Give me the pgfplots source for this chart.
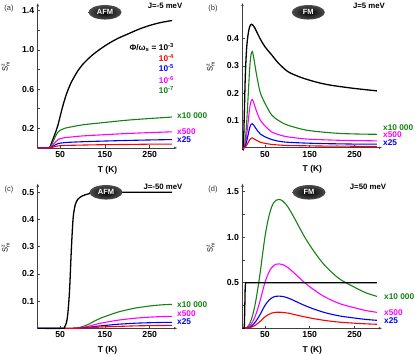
\documentclass[border=0pt]{standalone}
\usepackage{fontspec}
\setmainfont{Liberation Sans}
\setsansfont{Liberation Sans}
\usepackage{pgfplots}
\pgfplotsset{compat=1.18}
\usetikzlibrary{arrows.meta,shapes.geometric}
\definecolor{cgreen}{RGB}{20,130,20}
\definecolor{cmag}{RGB}{255,0,255}
\definecolor{cblue}{RGB}{0,0,255}
\definecolor{cred}{RGB}{255,0,0}
\pgfplotsset{panel/.style={
 scale only axis, width=139.8pt, height=145pt,
 xmin=0,xmax=312,ymin=0,
 axis lines=left,
 axis line style={line width=0.6pt, black!75, -{Latex[length=3.5pt,width=2.6pt]}},
 tick align=inside,
 major tick length=2.5pt, minor tick length=2pt,
 tick style={black!75, line width=0.5pt},
 xtick={50,150,250}, xticklabels={50,150,250},
 tick label style={font=\bfseries\fontsize{8.7}{9}\selectfont},
 /pgf/number format/assume math mode=true,
 xlabel={T (K)},
 xlabel style={font=\bfseries\fontsize{8.5}{9}\selectfont, at={(axis description cs:0.5,-0.152)}, anchor=center},
 ylabel={$\mathsf{S}^{\mathsf{z}}_{\mathsf{m}}$},
 ylabel style={font=\fontsize{7.5}{8}\selectfont, at={(axis description cs:-0.228,0.56)}, anchor=center},
 clip=false,
 every axis plot/.append style={line width=1.1pt, no markers},
}}
\tikzset{badge/.style={ellipse, inner sep=0pt, minimum width=33pt, minimum height=14.5pt, shading=radial, inner color=black, outer color=black!70, text=white, font=\bfseries\fontsize{7.5}{8}\selectfont},
 lab/.style={font=\bfseries\fontsize{8.3}{9}\selectfont, anchor=west, inner sep=0pt},
 jlab/.style={font=\bfseries\fontsize{7.8}{8}\selectfont, inner sep=0pt},
 plab/.style={font=\fontsize{7.5}{8}\selectfont, inner sep=0pt, text=black!80}}
\begin{document}
\begin{tikzpicture}
\useasboundingbox (0,0) rectangle (415pt,356pt);
% (a)
\begin{axis}[panel, at={(37.7pt,208.1pt)}, anchor=south west, ymax=1.48,
 ytick={0.2,0.6,1.0,1.4}, yticklabels={0.2,0.6,1.0,1.4}, minor ytick={0.4,0.8,1.2}]
\addplot[black, line width=1.3pt, smooth] coordinates {(0,0)(25,0)(30,0.04)(35,0.10)(40,0.16)(45,0.23)(50,0.32)(55,0.41)(60,0.49)(65,0.56)(75,0.67)(90,0.79)(100,0.85)(120,0.94)(140,1.01)(160,1.07)(180,1.12)(200,1.16)(225,1.21)(250,1.25)(275,1.28)(300,1.30)};
\addplot[cgreen, smooth] coordinates {(0,0)(25,0)(30,0.02)(35,0.07)(40,0.12)(45,0.16)(50,0.18)(55,0.19)(60,0.2)(70,0.21)(100,0.235)(150,0.26)(200,0.283)(250,0.30)(300,0.315)};
\addplot[cmag, smooth] coordinates {(0,0)(25,0)(30,0.01)(35,0.036)(40,0.062)(45,0.083)(50,0.094)(55,0.099)(60,0.104)(70,0.109)(100,0.122)(150,0.135)(200,0.147)(250,0.156)(300,0.164)};
\addplot[cblue, smooth] coordinates {(0,0)(25,0)(30,0.005)(35,0.019)(40,0.032)(45,0.043)(50,0.049)(55,0.051)(60,0.054)(70,0.057)(100,0.063)(150,0.070)(200,0.076)(250,0.081)(300,0.085)};
\addplot[cred, smooth] coordinates {(0,0)(25,0)(30,0.003)(35,0.009)(40,0.015)(45,0.02)(50,0.023)(55,0.024)(60,0.025)(70,0.026)(100,0.029)(150,0.033)(200,0.035)(250,0.038)(300,0.039)};
\end{axis}
% (b)
\begin{axis}[panel, at={(242.5pt,208.3pt)}, anchor=south west, ymax=0.531,
 ytick={0.1,0.2,0.3,0.4}, yticklabels={0.1,0.2,0.3,0.4}]
\addplot[black, line width=1.3pt, smooth] coordinates {(0,0)(2,0)(4,0.12)(6,0.25)(8,0.33)(10,0.38)(13,0.42)(16,0.443)(20,0.452)(25,0.445)(30,0.43)(40,0.397)(50,0.37)(65,0.34)(80,0.31)(100,0.28)(120,0.264)(140,0.252)(170,0.238)(200,0.228)(250,0.217)(300,0.208)};
\addplot[cgreen, smooth] coordinates {(0,0)(4,0)(8,0.06)(12,0.17)(16,0.29)(19,0.34)(22,0.352)(25,0.33)(30,0.28)(35,0.236)(40,0.2)(50,0.163)(65,0.12)(80,0.1)(100,0.083)(140,0.065)(180,0.057)(220,0.052)(260,0.05)(300,0.049)};
\addplot[cmag, smooth] coordinates {(0,0)(4,0)(8,0.03)(12,0.085)(16,0.145)(19,0.17)(22,0.176)(25,0.165)(30,0.14)(35,0.118)(40,0.1)(50,0.08)(65,0.058)(80,0.048)(100,0.04)(140,0.032)(180,0.029)(220,0.027)(260,0.026)(300,0.025)};
\addplot[cblue, smooth] coordinates {(0,0)(4,0)(8,0.015)(12,0.043)(16,0.073)(19,0.085)(22,0.088)(25,0.083)(30,0.07)(35,0.059)(40,0.05)(50,0.04)(65,0.03)(80,0.024)(100,0.02)(140,0.017)(180,0.015)(220,0.014)(260,0.013)(300,0.013)};
\addplot[cred, smooth] coordinates {(0,0)(4,0)(8,0.006)(12,0.017)(16,0.029)(19,0.034)(22,0.036)(25,0.033)(30,0.028)(35,0.024)(40,0.02)(50,0.016)(65,0.012)(80,0.01)(100,0.008)(140,0.007)(180,0.006)(220,0.006)(260,0.005)(300,0.005)};
\end{axis}
% (c)
\begin{axis}[panel, at={(37.7pt,27.7pt)}, anchor=south west, ymax=0.533,
 ytick={0.1,0.2,0.3,0.4,0.5}, yticklabels={0.1,0.2,0.3,0.4,0.5}]
\addplot[cgreen, smooth] coordinates {(0,0)(80,0)(90,0.002)(100,0.006)(115,0.016)(125,0.025)(140,0.037)(160,0.049)(180,0.060)(200,0.068)(220,0.075)(250,0.082)(275,0.086)(300,0.088)};
\addplot[cmag, smooth] coordinates {(0,0)(80,0)(90,0.001)(100,0.003)(115,0.008)(125,0.0125)(140,0.0185)(160,0.0245)(180,0.030)(200,0.034)(220,0.0375)(250,0.041)(275,0.043)(300,0.044)};
\addplot[cblue, smooth] coordinates {(0,0)(80,0)(90,0.0005)(100,0.0015)(115,0.004)(125,0.006)(140,0.009)(160,0.012)(180,0.015)(200,0.017)(220,0.019)(250,0.0205)(275,0.0215)(300,0.022)};
\addplot[cred, smooth] coordinates {(0,0)(80,0)(100,0.001)(115,0.002)(125,0.003)(140,0.0045)(160,0.006)(180,0.007)(200,0.008)(220,0.009)(250,0.0098)(275,0.0103)(300,0.0106)};
\addplot[black, line width=1.3pt, smooth] coordinates {(0,0)(55,0)(60,0.005)(64,0.02)(67,0.05)(70,0.11)(72,0.17)(74,0.25)(76,0.32)(78,0.38)(80,0.42)(84,0.455)(90,0.475)(100,0.487)(115,0.495)(130,0.499)(150,0.5)(300,0.5)};
\end{axis}
% (d)
\begin{axis}[panel, at={(242.5pt,27.7pt)}, anchor=south west, ymax=1.59,
 ytick={0.5,1.0,1.5}, yticklabels={0.5,1.0,1.5}, minor ytick={0.25,0.75,1.25}]
\addplot[cgreen, smooth] coordinates {(0,0)(5,0)(10,0.01)(15,0.04)(20,0.1)(25,0.19)(30,0.31)(35,0.46)(40,0.63)(45,0.82)(50,1.0)(55,1.14)(60,1.25)(65,1.33)(70,1.38)(75,1.405)(82,1.413)(90,1.395)(100,1.34)(110,1.26)(120,1.17)(140,0.99)(160,0.84)(180,0.71)(200,0.61)(220,0.53)(250,0.45)(275,0.39)(300,0.35)};
\addplot[cmag, smooth] coordinates {(0,0)(5,0)(10,0.005)(15,0.02)(20,0.05)(25,0.095)(30,0.155)(35,0.23)(40,0.315)(45,0.41)(50,0.5)(55,0.57)(60,0.625)(65,0.665)(70,0.69)(75,0.7025)(82,0.7065)(90,0.6975)(100,0.67)(110,0.63)(120,0.585)(140,0.495)(160,0.42)(180,0.355)(200,0.305)(220,0.265)(250,0.225)(275,0.195)(300,0.175)};
\addplot[cblue, smooth] coordinates {(0,0)(5,0)(10,0.0025)(15,0.01)(20,0.025)(25,0.0475)(30,0.0775)(35,0.115)(40,0.1575)(45,0.205)(50,0.25)(55,0.285)(60,0.3125)(65,0.3325)(70,0.345)(75,0.351)(82,0.353)(90,0.349)(100,0.335)(110,0.315)(120,0.2925)(140,0.2475)(160,0.21)(180,0.1775)(200,0.1525)(220,0.1325)(250,0.1125)(275,0.0975)(300,0.0875)};
\addplot[cred, smooth] coordinates {(0,0)(5,0)(10,0.0013)(15,0.005)(20,0.0125)(25,0.024)(30,0.039)(35,0.0575)(40,0.079)(45,0.1025)(50,0.125)(55,0.1425)(60,0.156)(65,0.166)(70,0.1725)(75,0.1756)(82,0.1766)(90,0.1744)(100,0.1675)(110,0.1575)(120,0.146)(140,0.124)(160,0.105)(180,0.089)(200,0.076)(220,0.066)(250,0.056)(275,0.049)(300,0.044)};
\addplot[black, line width=1.3pt] coordinates {(0,0)(4,0)(5,0.2)(6,0.45)(7,0.5)(300,0.5)};
\end{axis}
% badges and labels
\node[badge] at (105pt,343.7pt) {AFM};
\node[badge] at (308.3pt,343.7pt) {FM};
\node[badge] at (106pt,163.7pt) {AFM};
\node[badge] at (309pt,163.7pt) {FM};
\node[jlab] at (165pt,350pt) {J=-5 meV};
\node[jlab] at (369pt,350pt) {J=5 meV};
\node[jlab] at (163pt,169pt) {J=-50 meV};
\node[jlab] at (368pt,169pt) {J=50 meV};
\node[plab] at (9pt,347pt) {(a)};
\node[plab] at (213pt,347pt) {(b)};
\node[plab] at (9pt,166pt) {(c)};
\node[plab] at (213pt,166pt) {(d)};
\node[lab, anchor=east] at (174pt,308.3pt) {Φ/ω\textsubscript{s} = 10\textsuperscript{-3}};
\node[lab, anchor=east, text=cred] at (174pt,297.7pt) {10\textsuperscript{-4}};
\node[lab, anchor=east, text=cblue] at (174pt,287.7pt) {10\textsuperscript{-5}};
\node[lab, anchor=east, text=cmag] at (174pt,276pt) {10\textsuperscript{-6}};
\node[lab, anchor=east, text=cgreen] at (174pt,266pt) {10\textsuperscript{-7}};
\node[lab, text=cgreen] at (177pt,240pt) {x10 000};
\node[lab, text=cmag] at (177pt,224.3pt) {x500};
\node[lab, text=cblue] at (177pt,216pt) {x25};
\node[lab, text=cgreen] at (383pt,228.3pt) {x10 000};
\node[lab, text=cmag] at (383pt,221pt) {x500};
\node[lab, text=cblue] at (383pt,213.7pt) {x25};
\node[lab, text=cgreen] at (177pt,51pt) {x10 000};
\node[lab, text=cmag] at (177pt,42.7pt) {x500};
\node[lab, text=cblue] at (177pt,34.3pt) {x25};
\node[lab, text=cgreen] at (384pt,59.3pt) {x10 000};
\node[lab, text=cmag] at (384pt,43.7pt) {x500};
\node[lab, text=cblue] at (384pt,35.3pt) {x25};
\end{tikzpicture}
\end{document}
